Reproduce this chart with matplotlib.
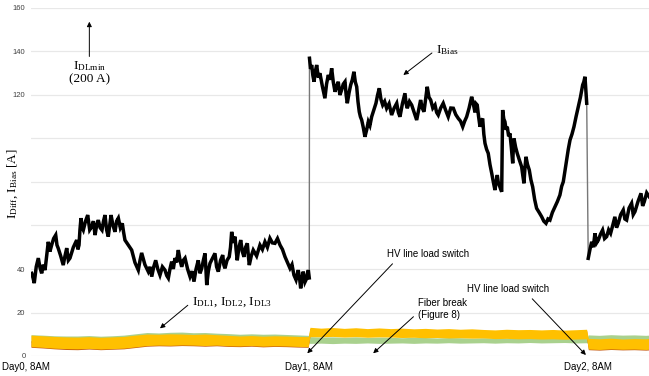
import matplotlib.pyplot as plt
from matplotlib import rcParams as defaults
from matplotlib.transforms import ScaledTranslation

defaults["font.family"] = "Liberation Sans"
defaults["mathtext.fontset"] = "custom"
defaults["mathtext.rm"] = "Liberation Serif"
defaults["mathtext.it"] = "Liberation Serif"

# hours after Day0 8AM
day_ticks = [0, 24, 48]
day_labels = ["Day0, 8AM", "Day1, 8AM", "Day2, 8AM"]

# I_Bias, in three pieces split at the jumps
bias_h_a = [0.06, 0.17, 0.28, 0.45, 0.63, 0.78, 0.92, 1.06, 1.21, 1.35, 1.49, 1.63, 1.78,
            1.95, 2.13, 2.24, 2.35, 2.56, 2.78, 2.93, 3.08, 3.22, 3.36, 3.65, 3.94, 4.04,
            4.14, 4.22, 4.31, 4.41, 4.51, 4.70, 4.89, 5.06, 5.23, 5.38, 5.52, 5.66, 5.80,
            5.96, 6.12, 6.25, 6.38, 6.52, 6.66, 6.78, 6.90, 7.07, 7.24, 7.38, 7.53, 7.70,
            7.87, 7.98, 8.10, 8.39, 8.68, 8.96, 9.25, 9.40, 9.54, 9.82, 10.11, 10.26, 10.41,
            10.58, 10.75, 10.93, 11.12, 11.33, 11.55, 11.70, 11.84, 11.98, 12.13, 12.27,
            12.41, 12.55, 12.70, 12.85, 12.99, 13.13, 13.28, 13.50, 13.71, 13.88, 14.05,
            14.23, 14.42, 14.57, 14.72, 14.86, 15.00, 15.08, 15.15, 15.29, 15.43, 15.65,
            15.86, 16.00, 16.15, 16.34, 16.53, 16.62, 16.72, 16.90, 17.09, 17.20, 17.30,
            17.45, 17.59, 17.68, 17.78, 17.93, 18.08, 18.22, 18.36, 18.50, 18.65, 18.74,
            18.82, 18.99, 19.16, 19.45, 19.74, 19.95, 20.17, 20.38, 20.60, 20.81, 21.03,
            21.25, 21.47, 21.68, 21.90, 22.11, 22.33, 22.50, 22.67, 22.85, 23.04, 23.15,
            23.25, 23.36, 23.47, 23.62, 23.77, 23.84, 23.91, 23.99]
bias_a = [38, 36, 33.5, 41, 45, 40.5, 38, 42, 39.5, 46, 52.5, 48, 51,
          54, 55.6, 51, 49.5, 46, 41.8, 46, 49.6, 44, 45, 50, 53.3, 49,
          51, 58, 63.4, 59, 57.9, 62, 64.8, 58, 59.4, 62, 55.6, 60, 62.5,
          59, 57.9, 62, 64.8, 58, 54.9, 60, 64.8, 60, 57.1, 62, 63.4, 59,
          61, 57, 53.3, 51, 48.7, 43, 39.5, 44, 47.4, 42, 38.8, 41, 36.5,
          41, 44, 40, 37.2, 41, 39.5, 37, 35.8, 40, 43.4, 40,
          45, 43, 48.7, 44, 41, 44, 45, 40, 36.5, 39, 34.2,
          40, 44, 38, 40.3, 44, 47.2, 40, 32.6, 39, 42.6, 45,
          47.2, 41, 38.8, 44, 46.4, 42, 40.3, 44, 45.6, 50, 57.1,
          52, 54.9, 49, 44, 50, 53.3, 48, 45.6, 50, 51.8, 46,
          41.8, 46, 48.7, 46, 51, 49, 52.5, 50, 54.1, 52, 51.8,
          54, 51, 49, 45.6, 43, 40.3, 42, 37.2, 35, 39.5, 36,
          31.1, 35, 38.8, 34, 35.7, 38, 39.5, 35.9]

bias_h_b = [24.01, 24.10, 24.20, 24.30, 24.40, 24.52, 24.63, 24.77, 24.91, 25.12, 25.34,
            25.48, 25.63, 25.78, 25.92, 26.06, 26.21, 26.35, 26.49, 26.63, 26.78, 26.92,
            27.07, 27.17, 27.27, 27.42, 27.56, 27.70, 27.84, 27.96, 28.08, 28.19, 28.30,
            28.40, 28.51, 28.65, 28.79, 28.94, 29.08, 29.22, 29.37, 29.55, 29.74, 29.88,
            30.03, 30.17, 30.32, 30.49, 30.66, 30.87, 31.09, 31.31, 31.53, 31.67, 31.81,
            32.02, 32.24, 32.34, 32.44, 32.63, 32.82, 33.03, 33.25, 33.42, 33.59, 33.73,
            33.88, 34.02, 34.16, 34.31, 34.46, 34.64, 34.83, 34.97, 35.11, 35.32, 35.54,
            35.75, 35.97, 36.19, 36.41, 36.62, 36.84, 37.03, 37.22, 37.39, 37.56, 37.77,
            37.99, 38.13, 38.28, 38.37, 38.47, 38.59, 38.71, 38.82, 38.94, 39.04, 39.14,
            39.28, 39.42, 39.57, 39.72, 39.86, 40.00, 40.10, 40.20, 40.28, 40.37, 40.47,
            40.58, 40.62, 40.66, 40.76, 40.86, 40.96, 41.06, 41.18, 41.29, 41.41, 41.53,
            41.58, 41.64, 41.78, 41.92, 42.11, 42.30, 42.40, 42.50, 42.58, 42.67, 42.81,
            42.96, 43.10, 43.25, 43.42, 43.59, 43.81, 44.03, 44.21, 44.40, 44.57, 44.74,
            44.95, 45.17, 45.38, 45.60, 45.75, 45.89, 46.03, 46.18, 46.32, 46.47, 46.64,
            46.81, 46.99, 47.18, 47.37, 47.56, 47.66, 47.76, 47.84, 47.91]
bias_b = [136.9, 132, 133.8, 129, 126.1, 131, 133.8, 128, 130, 124, 118.5,
          125, 129.2, 127, 132.3, 126, 121.5, 124, 126.1, 120, 122.3, 125,
          126.1, 120, 116.2, 121, 124.6, 127, 130.7, 126, 123.8, 117, 112.3,
          110, 108.5, 105, 100.8, 104, 107.7, 106, 110, 113, 116.2, 120,
          123.1, 118, 115.4, 117, 113.9, 116, 110.8, 114, 116.2, 112, 110,
          116, 120.8, 116, 113.9, 117, 115.4, 112, 108.5, 113, 117.7, 114,
          112.3, 118, 123.8, 119, 117.7, 114, 115.4, 112, 110.8, 114, 116.2,
          113, 110, 114, 113.9, 111, 109.2, 108, 105.4, 108, 110, 114,
          119.2, 116, 112, 116, 115.4, 110, 105.4, 108, 109.2, 102, 97.8,
          95, 93.2, 88, 84, 80, 76.3, 80, 83.2, 80, 78.6, 77,
          75.5, 95, 113.1, 109, 107.7, 104, 105.4, 101, 102.4, 96, 88.6,
          95, 100, 96, 93.2, 90, 87, 83, 79.4, 86, 91.6, 88,
          85.5, 81, 77.8, 72, 67.9, 66, 64, 62, 61, 63, 62.5,
          66, 68.6, 71, 74, 78, 80.1, 85, 90.1, 95, 99.3, 102,
          105.4, 110, 114.6, 119, 124.6, 126, 128.4, 122, 116.2]

bias_h_c = [48.04, 48.19, 48.34, 48.48, 48.62, 48.76, 48.91, 49.10, 49.28, 49.45, 49.63,
            49.80, 49.97, 50.15, 50.34, 50.48, 50.63, 50.84, 51.06, 51.20, 51.35, 51.56,
            51.78, 51.92, 52.07, 52.33, 52.59, 52.73, 52.87, 53.08, 53.30]
bias_c = [44.9, 49, 52.5, 50, 56.4, 52, 53.3, 56, 57.9, 54, 54.9,
          58, 56.4, 60, 64, 59, 61, 65, 67.1, 63, 62.5, 68,
          70.2, 65, 66.4, 71, 74.8, 69, 70.9, 75, 73.2]

# I_DL1..3 bands (lower / upper edge of the noisy traces)
dl_h = [0, 1, 2, 3, 4, 5, 6, 7, 8, 9, 10, 11, 12, 13, 14, 15, 16, 17, 18, 19, 20, 21, 22,
        23, 23.9, 24.05, 25, 26, 27, 28, 29, 30, 31, 32, 33, 34, 35, 36, 37, 38, 39, 40,
        41, 42, 43, 44, 45, 46, 47, 47.9, 48.05, 49, 50, 51, 52, 53, 53.3]
yellow_lo = [4.3, 4.0, 3.6, 3.4, 3.3, 3.5, 3.2, 3.4, 3.6, 4.2, 4.8, 5.0, 4.9, 5.1, 5.0, 4.8,
             5.0, 4.7, 4.6, 4.8, 4.5, 4.7, 4.6, 4.4, 4.3, 8.9, 8.8, 9.0, 8.7, 8.9, 8.6,
             8.8, 8.7, 8.5, 8.6, 8.4, 8.5, 8.3, 8.4, 8.2, 8.3, 8.0, 8.1, 7.9, 8.0, 7.8,
             7.9, 7.7, 7.8, 7.9, 3.2, 3.0, 3.3, 3.1, 3.2, 3.0, 3.1]
yellow_hi = [9.6, 9.3, 9.0, 8.8, 8.7, 8.9, 8.6, 8.8, 9.0, 9.6, 10.1, 10.0, 10.2, 10.1, 9.9,
             10.1, 9.8, 9.5, 9.2, 9.4, 9.1, 9.3, 9.2, 9.0, 8.9, 13.2, 12.8, 13.1, 12.7,
             13.0, 12.6, 12.9, 12.6, 12.8, 12.5, 12.7, 12.4, 12.6, 12.3, 12.5, 12.2, 12.0,
             12.3, 12.1, 12.2, 12.0, 12.2, 11.9, 12.1, 12.3, 8.1, 7.9, 8.2, 7.8, 8.0, 7.9, 8.1]
green_lo = [6.3, 6.1, 5.8, 5.6, 5.5, 5.6, 5.4, 5.6, 5.8, 6.3, 6.8, 7.0, 6.9, 7.0, 6.9, 6.8,
            6.9, 6.6, 6.5, 6.6, 6.4, 6.5, 6.4, 6.2, 6.1, 5.8, 5.9, 5.7, 5.9, 5.8, 6.0,
            5.8, 5.9, 6.0, 5.8, 6.0, 5.9, 6.1, 5.9, 6.0, 6.1, 5.9, 6.1, 6.0, 6.2, 6.0,
            6.1, 6.2, 6.0, 6.1, 6.0, 5.9, 6.1, 5.8, 6.0, 5.9, 6.0]
green_hi = [9.8, 9.6, 9.3, 9.2, 9.2, 9.4, 9.1, 9.3, 9.6, 10.2, 10.8, 10.6, 10.9, 11.0, 10.7,
            10.8, 10.5, 10.3, 10.0, 10.2, 10.0, 10.1, 9.9, 9.7, 9.5, 8.9, 8.7, 8.8, 8.6,
            8.8, 8.5, 8.7, 8.6, 8.4, 8.6, 8.5, 8.3, 8.5, 8.4, 8.2, 8.4, 8.3, 8.2, 8.4,
            8.1, 8.3, 8.2, 8.1, 8.3, 8.2, 9.7, 9.5, 9.8, 9.6, 9.7, 9.5, 9.6]
red_lo = [4.0, 3.7, 3.3, 3.0, 2.9, 3.2, 2.9, 3.1, 3.3, 3.9, 4.5, 4.7, 4.6, 4.8, 4.7, 4.5,
          4.7, 4.4, 4.3, 4.5, 4.2, 4.4, 4.3, 4.1, 4.0, 9.3, 9.2, 9.4, 9.1, 9.3, 9.0,
          9.2, 9.1, 8.9, 9.0, 8.8, 8.9, 8.7, 8.8, 8.6, 8.7, 8.4, 8.5, 8.3, 8.4, 8.2,
          8.3, 8.1, 8.2, 8.3, 2.9, 2.7, 3.0, 2.8, 2.9, 2.7, 2.8]
red_hi = [7.0, 6.8, 6.5, 6.3, 6.2, 6.3, 6.1, 6.3, 6.5, 6.9, 7.3, 7.5, 7.4, 7.6, 7.5, 7.3,
          7.5, 7.2, 7.1, 7.3, 7.0, 7.2, 7.1, 6.9, 6.8, 12.6, 12.3, 12.5, 12.1, 12.4,
          12.0, 12.3, 12.0, 12.2, 11.9, 12.1, 11.8, 12.0, 11.7, 11.9, 11.6, 11.4, 11.7,
          11.5, 11.6, 11.4, 11.6, 11.3, 11.5, 11.7, 6.0, 5.8, 6.1, 5.7, 5.9, 5.8, 6.0]

yticks = [0, 20, 40, 60, 80, 100, 120, 140, 160]
ytick_labels = ["0", "20", "40", "", "", "", "120", "140", "160"]


if __name__ == "__main__":

    fig = plt.figure(figsize=(6.49, 3.76), dpi=100)
    ax = fig.add_axes([31 / 649, 20 / 376, 618 / 649, 348 / 376])
    ax.set_xlim(0, 53.28)
    ax.set_ylim(0, 160)

    for side in ["top", "right", "left", "bottom"]:
        ax.spines[side].set_visible(False)
    ax.yaxis.grid(True, color="#e8e8e8", lw=0.9)
    ax.set_axisbelow(True)
    ax.set_yticks(yticks, ytick_labels, fontsize=5.5, color="#404040")
    ax.set_xticks(day_ticks, day_labels, fontsize=7, color="black")
    ax.tick_params(length=0, pad=4)
    first = ax.get_xticklabels()[0]
    first.set_transform(first.get_transform() + ScaledTranslation(-4 / 72, 0, fig.dpi_scale_trans))

    # DL currents: green and red underneath, yellow on top
    ax.fill_between(dl_h, green_lo, green_hi, color="#a9d18e", lw=0)
    ax.fill_between(dl_h, red_lo, red_hi, color="#c55a11", lw=0)
    ax.fill_between(dl_h, yellow_lo, yellow_hi, color="#ffc000", lw=0)

    # bias current with grey jumps between the pieces
    ax.plot([bias_h_a[-1], bias_h_b[0]], [bias_a[-1], bias_b[0]], color="#777777", lw=1)
    ax.plot([bias_h_b[-1], bias_h_c[0]], [bias_b[-1], bias_c[0]], color="#777777", lw=1)
    for hh, vv in [(bias_h_a, bias_a), (bias_h_b, bias_b), (bias_h_c, bias_c)]:
        ax.plot(hh, vv, color="black", lw=2.5, solid_joinstyle="miter")

    arrow = dict(arrowstyle="-|>", color="black", lw=0.7, mutation_scale=7)
    serif = dict(fontsize=9.5, family="Liberation Serif")

    ax.annotate("$\\mathrm{I_{DLmin}}$\n(200 A)", xy=(5.03, 153.7), xytext=(5.03, 130.5),
                ha="center", va="center", linespacing=1.0,
                arrowprops=dict(arrow, shrinkA=0, shrinkB=0), **serif)
    ax.annotate("$\\mathrm{I_{Bias}}$", xy=(32.1, 129.2), xytext=(34.9, 140.7),
                ha="left", va="center",
                arrowprops=dict(arrow, relpos=(0, 0.5), shrinkA=1, shrinkB=0), **serif)
    ax.annotate("$\\mathrm{I_{DL1}}$, $\\mathrm{I_{DL2}}$, $\\mathrm{I_{DL3}}$",
                xy=(11.12, 12.7), xytext=(13.85, 24.8), ha="left", va="center",
                arrowprops=dict(arrow, relpos=(0, 0.5), shrinkA=1, shrinkB=0), **serif)
    ax.annotate("HV line load switch", xy=(23.82, 1.24), xytext=(34.25, 46.9),
                ha="center", va="center", fontsize=7,
                arrowprops=dict(arrow, relpos=(0.12, 0), shrinkA=2, shrinkB=0))
    ax.annotate("Fiber break\n(Figure 8)", xy=(29.5, 1.24), xytext=(33.39, 21.6),
                ha="left", va="center", fontsize=7, linespacing=1.25,
                arrowprops=dict(arrow, relpos=(0, 0.35), shrinkA=2, shrinkB=0))
    ax.annotate("HV line load switch", xy=(47.84, 0.46), xytext=(41.12, 30.8),
                ha="center", va="center", fontsize=7,
                arrowprops=dict(arrow, relpos=(0.74, 0), shrinkA=2, shrinkB=0))

    fig.text(13 / 649, 1 - 184 / 376, "$\\mathrm{I_{Diff}}$, $\\mathrm{I_{Bias}}$ [A]",
             rotation=90, ha="center", va="center", **serif)

    plt.savefig("out.png", dpi=100)
